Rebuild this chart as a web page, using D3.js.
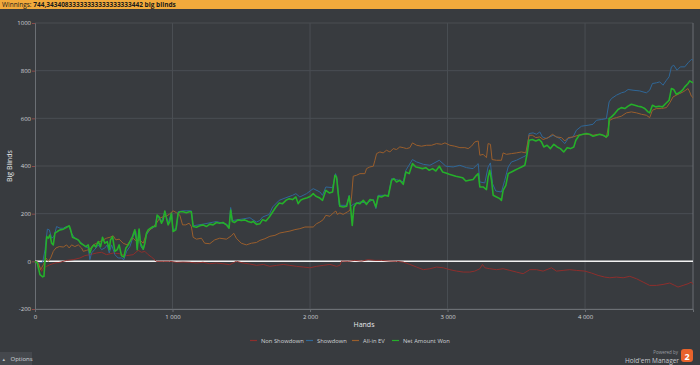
<!DOCTYPE html>
<html><head><meta charset="utf-8">
<script src="https://cdn.jsdelivr.net/npm/d3@7"></script>
<style>
html,body{margin:0;padding:0;background:#383b3f;overflow:hidden;}
svg{display:block;}
text{font-family:"Open Sans","DejaVu Sans",sans-serif;}
</style></head>
<body>
<svg id="chart" width="700" height="365"></svg>
<script>
const titleLabel = "Winnings:";
const titleValue = "744,34340833333333333333333442 big blinds";
const xTicks = [0, 1000, 2000, 3000, 4000];
const yTicks = [-200, 0, 200, 400, 600, 800, 1000];
const xDomain = [0, 4785];
const yDomain = [-200, 1000];
const seriesNames = ["Non Showdown", "Showdown", "All-in EV", "Net Amount Won"];
const seriesColors = ["#8e2e2c", "#2f6798", "#9a5e2c", "#25b02a"];

const nonShowdown = [[0,0],[24,-4],[48,-42],[61,-28],[85,-21],[109,-14],[145,-7],[182,-4],[230,4],[278,7],[327,14],[363,24],[399,28],[448,35],[484,38],[520,28],[569,35],[617,32],[666,24],[714,28],[750,46],[775,38],[799,42],[823,28],[847,18],[883,0],[932,0],[980,0],[1029,-4],[1077,-3],[1125,-4],[1174,-7],[1222,-4],[1271,-10],[1319,-7],[1367,-10],[1416,-14],[1464,0],[1513,-7],[1561,-11],[1611,-17],[1660,-13],[1708,-21],[1757,-17],[1805,-13],[1854,-17],[1902,-21],[1951,-24],[1999,-27],[2048,-21],[2096,-17],[2145,-13],[2193,-21],[2217,-17],[2229,1],[2278,0],[2326,4],[2375,1],[2423,7],[2472,4],[2520,4],[2581,1],[2629,0],[2678,-3],[2726,-13],[2775,-24],[2824,-35],[2872,-31],[2920,-24],[2969,-27],[3017,-35],[3066,-41],[3114,-45],[3162,-45],[3198,-41],[3235,-31],[3254,-13],[3271,-27],[3307,-31],[3356,-35],[3404,-31],[3453,-38],[3501,-45],[3550,-52],[3598,-35],[3647,-35],[3695,-41],[3756,-27],[3792,-41],[3840,-38],[3889,-35],[3937,-38],[3998,-41],[4046,-49],[4095,-59],[4143,-66],[4180,-69],[4228,-66],[4277,-69],[4325,-63],[4374,-73],[4422,-87],[4470,-101],[4519,-101],[4567,-97],[4616,-91],[4652,-101],[4676,-108],[4713,-101],[4749,-94],[4773,-87],[4785,-97]];

const showdown = [[0,0],[24,-7],[56,-4],[73,49],[90,135],[104,132],[121,97],[138,104],[157,146],[182,139],[206,139],[230,146],[249,146],[266,118],[290,97],[327,83],[363,62],[387,56],[399,7],[411,35],[436,51],[460,69],[484,49],[508,56],[525,69],[540,35],[557,69],[581,28],[605,14],[629,14],[646,7],[666,42],[690,62],[714,104],[733,125],[743,56],[757,132],[770,62],[787,49],[811,111],[835,132],[871,146],[888,190],[920,167],[944,208],[968,160],[992,204],[1004,132],[1029,139],[1041,208],[1077,212],[1137,212],[1150,149],[1222,156],[1319,167],[1392,156],[1411,146],[1423,226],[1435,171],[1513,178],[1585,174],[1634,171],[1563,183],[1611,165],[1655,186],[1704,197],[1728,228],[1776,256],[1825,267],[1873,277],[1897,284],[1926,270],[1975,284],[2023,305],[2072,291],[2091,277],[2115,312],[2164,309],[2186,368],[2198,340],[2212,235],[2266,235],[2285,277],[2295,231],[2314,239],[2363,249],[2411,245],[2460,259],[2479,221],[2496,277],[2569,277],[2593,347],[2629,343],[2678,333],[2697,382],[2745,427],[2775,417],[2824,407],[2872,403],[2940,424],[2988,399],[3041,396],[3090,403],[3138,393],[3186,389],[3210,403],[3223,410],[3235,333],[3271,329],[3295,396],[3312,413],[3327,326],[3351,295],[3392,291],[3416,340],[3441,396],[3465,417],[3501,424],[3550,438],[3574,445],[3593,536],[3622,539],[3647,533],[3671,543],[3690,522],[3719,515],[3768,529],[3816,515],[3853,494],[3877,515],[3913,522],[3937,550],[3974,567],[4022,571],[4058,575],[4083,592],[4119,595],[4155,599],[4175,669],[4192,683],[4228,697],[4264,707],[4289,711],[4313,721],[4349,718],[4398,715],[4446,707],[4470,718],[4490,746],[4519,749],[4543,753],[4567,739],[4592,760],[4611,774],[4628,816],[4645,823],[4669,802],[4693,816],[4725,816],[4749,833],[4773,847],[4785,844]];

const allInEV = [[0,0],[24,-7],[41,-35],[61,-14],[80,14],[97,0],[114,14],[133,42],[152,56],[177,62],[206,60],[230,69],[249,56],[266,69],[290,62],[315,69],[339,56],[351,42],[375,46],[399,51],[424,69],[448,76],[472,83],[496,90],[520,97],[545,101],[569,107],[588,90],[612,93],[641,76],[670,69],[690,83],[714,97],[738,83],[762,90],[787,76],[811,118],[835,132],[859,143],[883,160],[907,181],[932,187],[956,190],[980,199],[1004,212],[1029,204],[1053,194],[1073,153],[1096,153],[1121,160],[1137,146],[1150,101],[1174,93],[1210,97],[1234,76],[1271,74],[1307,90],[1343,97],[1392,93],[1428,107],[1445,118],[1464,97],[1500,76],[1537,69],[1573,76],[1610,79],[1636,88],[1672,95],[1708,105],[1745,109],[1781,119],[1817,123],[1854,127],[1890,133],[1926,137],[1963,144],[1999,144],[2023,144],[2048,158],[2072,165],[2096,175],[2115,193],[2145,189],[2169,203],[2188,211],[2198,197],[2217,203],[2241,197],[2271,207],[2290,214],[2302,270],[2314,357],[2338,361],[2363,368],[2399,368],[2411,389],[2435,396],[2460,399],[2472,424],[2484,452],[2508,459],[2532,455],[2556,466],[2581,459],[2605,473],[2629,469],[2653,480],[2678,477],[2702,473],[2726,477],[2745,497],[2775,487],[2811,483],[2848,487],[2884,487],[2920,494],[2957,491],[2981,497],[3017,487],[3053,483],[3090,477],[3126,477],[3150,473],[3174,483],[3198,501],[3223,505],[3235,445],[3259,449],[3283,435],[3295,494],[3312,491],[3324,427],[3356,424],[3392,424],[3404,455],[3428,449],[3465,452],[3501,455],[3538,459],[3569,455],[3593,529],[3617,529],[3642,519],[3671,522],[3695,511],[3731,519],[3763,533],[3792,522],[3829,519],[3853,505],[3877,519],[3913,522],[3950,529],[3986,533],[4022,533],[4058,529],[4095,533],[4131,529],[4155,519],[4180,592],[4204,599],[4228,603],[4264,609],[4301,623],[4337,627],[4374,623],[4410,617],[4446,613],[4470,603],[4490,634],[4519,641],[4555,641],[4592,645],[4616,665],[4640,690],[4664,697],[4688,704],[4713,711],[4732,718],[4749,725],[4761,711],[4773,693],[4785,687]];

const netWon = [[0,0],[17,-7],[36,-56],[56,-65],[65,-63],[75,21],[85,104],[97,97],[109,111],[121,76],[133,69],[145,118],[162,125],[182,132],[206,135],[230,143],[249,149],[259,132],[273,101],[290,97],[315,90],[332,76],[351,69],[370,62],[387,69],[399,35],[411,56],[428,69],[443,60],[460,83],[477,62],[491,101],[508,76],[525,83],[540,49],[549,90],[564,104],[581,42],[598,49],[612,69],[629,24],[646,18],[661,56],[678,69],[690,83],[709,104],[726,132],[738,90],[743,49],[757,135],[767,76],[787,51],[799,76],[811,118],[823,132],[840,139],[859,146],[878,146],[888,194],[902,187],[920,160],[932,174],[944,211],[956,181],[968,153],[980,167],[992,201],[1004,125],[1024,132],[1041,201],[1053,208],[1077,208],[1101,204],[1121,208],[1137,208],[1150,146],[1174,143],[1198,149],[1222,153],[1246,146],[1271,156],[1295,153],[1319,163],[1343,160],[1367,163],[1392,153],[1411,139],[1423,215],[1435,167],[1452,163],[1476,174],[1500,171],[1525,174],[1549,167],[1573,163],[1587,168],[1611,155],[1636,158],[1655,175],[1679,169],[1704,186],[1728,207],[1752,228],[1776,245],[1800,242],[1825,256],[1849,263],[1873,259],[1897,270],[1914,242],[1931,256],[1955,263],[1980,267],[2004,273],[2023,284],[2043,273],[2067,267],[2091,256],[2115,298],[2140,287],[2164,291],[2181,361],[2193,354],[2205,284],[2217,231],[2241,228],[2266,231],[2285,273],[2295,228],[2307,151],[2319,228],[2338,245],[2363,242],[2387,256],[2411,239],[2435,259],[2460,256],[2479,228],[2496,273],[2520,270],[2544,277],[2569,273],[2593,340],[2610,347],[2629,333],[2653,340],[2678,323],[2697,375],[2721,368],[2745,410],[2770,396],[2794,393],[2818,389],[2842,393],[2867,382],[2891,389],[2915,379],[2940,399],[2964,375],[2988,371],[3012,365],[3036,361],[3060,357],[3085,354],[3109,351],[3133,337],[3157,340],[3186,343],[3210,361],[3223,368],[3235,312],[3259,312],[3283,301],[3295,354],[3307,382],[3320,340],[3332,277],[3356,270],[3380,263],[3392,256],[3404,298],[3424,319],[3441,368],[3465,375],[3489,382],[3513,389],[3538,396],[3562,403],[3579,452],[3593,508],[3617,511],[3642,505],[3666,511],[3683,501],[3700,480],[3724,487],[3748,473],[3773,491],[3797,480],[3821,473],[3845,459],[3870,477],[3894,473],[3918,480],[3933,508],[3957,529],[3986,533],[4010,536],[4034,533],[4058,525],[4083,529],[4107,533],[4131,529],[4155,522],[4168,529],[4175,599],[4192,606],[4216,620],[4240,637],[4264,645],[4289,641],[4313,651],[4337,659],[4362,655],[4386,651],[4410,648],[4434,641],[4458,627],[4470,623],[4490,655],[4514,648],[4538,651],[4563,648],[4587,662],[4611,676],[4628,725],[4645,721],[4664,701],[4684,707],[4708,718],[4725,732],[4749,746],[4761,757],[4785,749]];

const svg = d3.select("#chart");
const W = 700, H = 365;
const margin = {left: 35, right: 7, top: 23, bottom: 56};
const x = d3.scaleLinear().domain(xDomain).range([margin.left, W - margin.right]);
const y = d3.scaleLinear().domain(yDomain).range([H - margin.bottom, margin.top]);

svg.append("rect").attr("width", W).attr("height", H).attr("fill", "#383b3f");

// title bar
svg.append("rect").attr("x", 0).attr("y", 0).attr("width", W).attr("height", 9).attr("fill", "#f2aa3c");
const tt = svg.append("text").attr("x", 2).attr("y", 7).attr("font-size", 6.5).attr("fill", "#1a1a1a");
tt.append("tspan").text(titleLabel + " ");
tt.append("tspan").attr("font-weight", "bold").text(titleValue);

// grid
const g = svg.append("g");
g.selectAll(".hg").data(yTicks).join("line")
  .attr("x1", x(xDomain[0])).attr("x2", x(xDomain[1]))
  .attr("y1", d => y(d)).attr("y2", d => y(d))
  .attr("stroke", "#4a4e53").attr("stroke-width", 1);
g.selectAll(".vg").data(xTicks.filter(d => d > 0)).join("line")
  .attr("x1", d => x(d)).attr("x2", d => x(d))
  .attr("y1", y(yDomain[0])).attr("y2", y(yDomain[1]))
  .attr("stroke", "#4a4e53").attr("stroke-width", 1);

// axes
const fmt = d => d >= 1000 && d % 1000 === 0 && d !== 1000 ? (d/1000) + " 000" : (d === 1000 ? "1 000" : String(d));
const xAxis = d3.axisBottom(x).tickValues(xTicks).tickSize(3).tickFormat(d => d === 0 ? "0" : (d/1000) + " 000");
const yAxis = d3.axisLeft(y).tickValues(yTicks).tickSize(3).tickFormat(d => String(d));
const gx = svg.append("g").attr("transform", `translate(0,${y(yDomain[0])})`).call(xAxis);
const gy = svg.append("g").attr("transform", `translate(${x(0)},0)`).call(yAxis);
[gx, gy].forEach(a => {
  a.select(".domain").attr("stroke", "#6b6f74");
  a.selectAll(".tick line").attr("stroke", "#8a4a4a");
  a.selectAll(".tick text").attr("fill", "#cfd2d6").attr("font-size", 6).attr("font-family", "'Open Sans', sans-serif");
});
gx.selectAll(".tick line").attr("stroke", "#6b6f74");
gy.selectAll(".tick text").attr("x", -4);
// right border
svg.append("line").attr("x1", x(xDomain[1])).attr("x2", x(xDomain[1]))
  .attr("y1", y(yDomain[0])).attr("y2", y(yDomain[1])).attr("stroke", "#6b6f74");

// zero line
svg.append("line").attr("x1", x(xDomain[0])).attr("x2", x(xDomain[1]))
  .attr("y1", y(0)).attr("y2", y(0)).attr("stroke", "#f2f2f2").attr("stroke-width", 1.5);

// series
const line = d3.line().x(d => x(d[0])).y(d => y(d[1]));
const series = [nonShowdown, showdown, allInEV, netWon];
const widths = [1, 1, 1, 1.6];
series.forEach((s, i) => {
  const data = s.slice().sort((a, b) => a[0] - b[0]);
  svg.append("path").datum(data).attr("d", line)
    .attr("fill", "none").attr("stroke", seriesColors[i]).attr("stroke-width", widths[i])
    .attr("stroke-linejoin", "round");
});

// axis titles
svg.append("text").attr("x", (x(xDomain[0]) + x(xDomain[1])) / 2).attr("y", 327)
  .attr("text-anchor", "middle").attr("font-size", 7).attr("fill", "#e6e8ea").text("Hands");
svg.append("text").attr("transform", `translate(12,${(y(yDomain[0]) + y(yDomain[1])) / 2}) rotate(-90)`)
  .attr("text-anchor", "middle").attr("font-size", 7).attr("fill", "#e6e8ea").text("Big Blinds");

// legend
const legendX = [250, 306, 352, 392];
const lg = svg.append("g");
seriesNames.forEach((n, i) => {
  lg.append("line").attr("x1", legendX[i]).attr("x2", legendX[i] + 7).attr("y1", 340.5).attr("y2", 340.5)
    .attr("stroke", seriesColors[i]).attr("stroke-width", 1.2);
  lg.append("text").attr("x", legendX[i] + 11).attr("y", 342.5).attr("font-size", 5.8)
    .attr("fill", "#cfd2d6").text(n);
});

// options button
svg.append("rect").attr("x", 0).attr("y", 352).attr("width", 32).attr("height", 13).attr("fill", "#45484d");
svg.append("text").attr("x", 2.5).attr("y", 361).attr("font-size", 5).attr("fill", "#bfc2c6").text("\u25B4");
svg.append("text").attr("x", 10.5).attr("y", 361).attr("font-size", 6).attr("fill", "#cfd2d6").text("Options");

// powered by
svg.append("text").attr("x", 678).attr("y", 354).attr("text-anchor", "end").attr("font-size", 4.5).attr("fill", "#9a9ea3").text("Powered by");
svg.append("text").attr("x", 679).attr("y", 362.5).attr("text-anchor", "end").attr("font-size", 6.5).attr("fill", "#c7cace").text("Hold'em Manager");
svg.append("rect").attr("x", 681).attr("y", 349).attr("width", 12).attr("height", 13).attr("rx", 3).attr("fill", "#e8632b");
svg.append("text").attr("x", 687).attr("y", 359.5).attr("text-anchor", "middle").attr("font-size", 9).attr("font-weight", "bold").attr("fill", "#ffffff").text("2");
</script>
</body></html>
